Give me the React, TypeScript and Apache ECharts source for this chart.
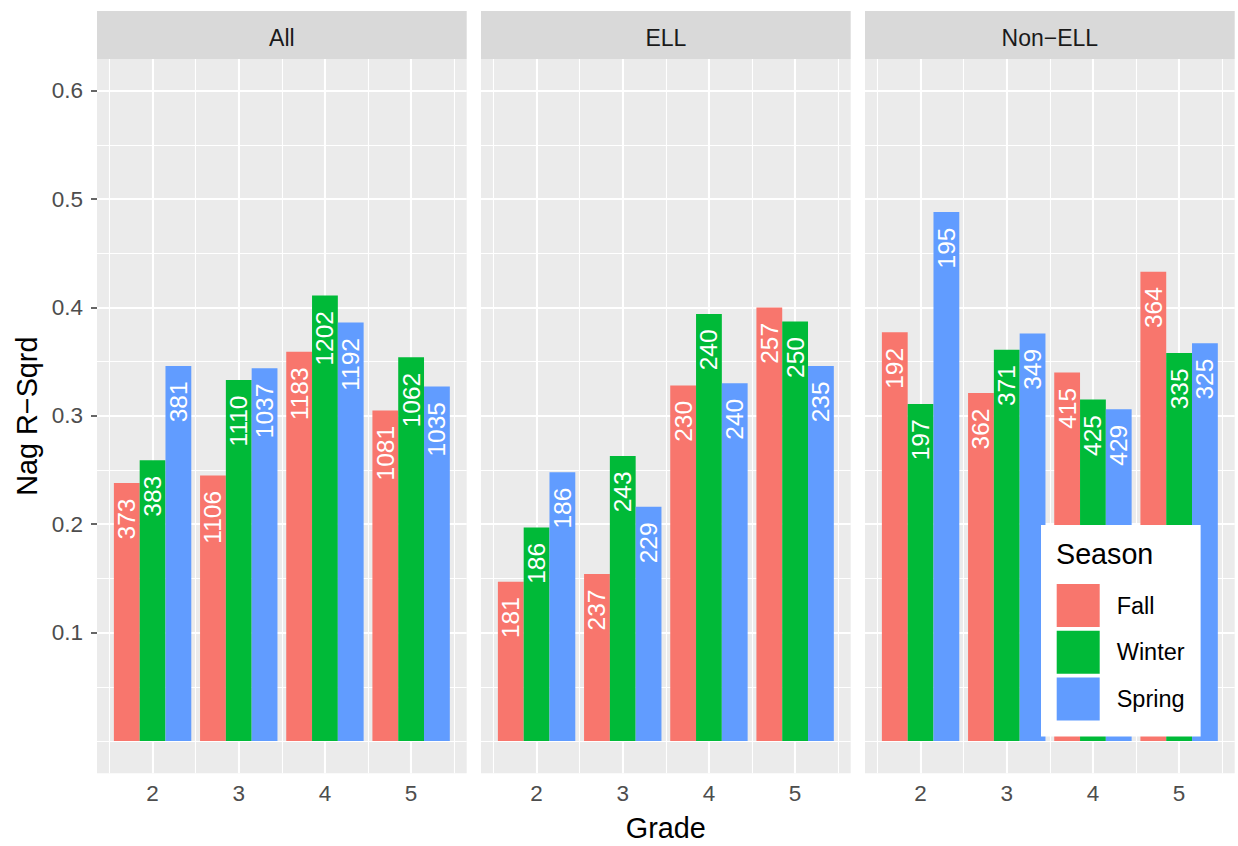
import React, { useEffect, useRef } from "react";
import * as echarts from "echarts";

// ---------- data ----------
const panels = ["All", "ELL", "Non\u2212ELL"];
const grades = [2, 3, 4, 5];
const seasons = ["Fall", "Winter", "Spring"];
const seasonColors = ["#F8766D", "#00BA38", "#619CFF"];

// Nag R-Sqrd by panel / season (index = grade 2..5)
const allFall = [0.238, 0.245, 0.359, 0.305];
const allWinter = [0.259, 0.333, 0.411, 0.354];
const allSpring = [0.346, 0.344, 0.386, 0.327];
const ellFall = [0.147, 0.154, 0.328, 0.400];
const ellWinter = [0.197, 0.263, 0.394, 0.387];
const ellSpring = [0.248, 0.216, 0.330, 0.346];
const nonFall = [0.377, 0.321, 0.340, 0.433];
const nonWinter = [0.311, 0.361, 0.315, 0.358];
const nonSpring = [0.488, 0.376, 0.306, 0.367];

// sample sizes shown on the bars
const allFallN = [373, 1106, 1183, 1081];
const allWinterN = [383, 1110, 1202, 1062];
const allSpringN = [381, 1037, 1192, 1035];
const ellFallN = [181, 237, 230, 257];
const ellWinterN = [186, 243, 240, 250];
const ellSpringN = [186, 229, 240, 235];
const nonFallN = [192, 362, 415, 364];
const nonWinterN = [197, 371, 425, 335];
const nonSpringN = [195, 349, 429, 325];

// axis breaks
const yBreaks = [0.1, 0.2, 0.3, 0.4, 0.5, 0.6];
const yMinorBreaks = [0, 0.05, 0.15, 0.25, 0.35, 0.45, 0.55];
const xMinorBreaks = [1.5, 2.5, 3.5, 4.5, 5.5];

const panelValues = [
  [allFall, allWinter, allSpring],
  [ellFall, ellWinter, ellSpring],
  [nonFall, nonWinter, nonSpring],
];
const panelCounts = [
  [allFallN, allWinterN, allSpringN],
  [ellFallN, ellWinterN, ellSpringN],
  [nonFallN, nonWinterN, nonSpringN],
];

// ---------- layout ----------
const FONT = '"Liberation Sans", Arial, Helvetica, sans-serif';
const PANEL_LEFTS = [97, 481, 865];
const PANEL_W = 369.7;
const PANEL_TOP = 59;
const PANEL_BOTTOM = 773.3;
const STRIP_TOP = 11;
const X_MIN = 1.355;
const X_MAX = 5.645;
const Y_MIN = -0.0298;
const Y_MAX = 0.6292;

function buildOption() {
  const grid = PANEL_LEFTS.map((l) => ({
    left: l,
    top: PANEL_TOP,
    width: PANEL_W,
    height: PANEL_BOTTOM - PANEL_TOP,
    show: true,
    backgroundColor: "#EBEBEB",
    borderWidth: 0,
  }));

  const xAxis = PANEL_LEFTS.map((_, i) => ({
    type: "value",
    gridIndex: i,
    min: X_MIN,
    max: X_MAX,
    axisLine: { show: false },
    axisTick: {
      show: true,
      customValues: grades,
      length: 6,
      lineStyle: { color: "#333333", width: 1.5 },
    },
    axisLabel: {
      show: true,
      customValues: grades,
      color: "#4D4D4D",
      fontSize: 22.5,
      fontFamily: FONT,
      margin: 9,
    },
    splitLine: { show: false },
  }));

  const yAxis = PANEL_LEFTS.map((_, i) => ({
    type: "value",
    gridIndex: i,
    min: Y_MIN,
    max: Y_MAX,
    axisLine: { show: false },
    axisTick: {
      show: i === 0,
      customValues: yBreaks,
      length: 6,
      lineStyle: { color: "#333333", width: 1.5 },
    },
    axisLabel: {
      show: i === 0,
      customValues: yBreaks,
      color: "#4D4D4D",
      fontSize: 22.5,
      fontFamily: FONT,
      margin: 14,
      formatter: (v: number) => v.toFixed(1),
    },
    splitLine: { show: false },
  }));

  const series: any[] = [];
  panels.forEach((_, p) => {
    const gridLines: any[] = [];
    grades.forEach((g) =>
      gridLines.push({ xAxis: g, lineStyle: { width: 2.1, color: "#FFFFFF", type: "solid" } })
    );
    xMinorBreaks.forEach((g) =>
      gridLines.push({ xAxis: g, lineStyle: { width: 1.1, color: "#FFFFFF", type: "solid" } })
    );
    yBreaks.forEach((v) =>
      gridLines.push({ yAxis: v, lineStyle: { width: 2.1, color: "#FFFFFF", type: "solid" } })
    );
    yMinorBreaks.forEach((v) =>
      gridLines.push({ yAxis: v, lineStyle: { width: 1.1, color: "#FFFFFF", type: "solid" } })
    );
    series.push({
      type: "line",
      name: "grid" + p,
      xAxisIndex: p,
      yAxisIndex: p,
      data: [],
      silent: true,
      markLine: {
        z: 1,
        silent: true,
        symbol: ["none", "none"],
        label: { show: false },
        emphasis: { disabled: true },
        data: gridLines,
      },
    });
    seasons.forEach((s, k) => {
      const vals = panelValues[p][k];
      const ns = panelCounts[p][k];
      series.push({
        type: "bar",
        name: s,
        xAxisIndex: p,
        yAxisIndex: p,
        z: 2,
        barWidth: 25.8,
        barGap: "0%",
        silent: true,
        data: grades.map((g, j) => [g, vals[j]]),
        itemStyle: { color: seasonColors[k] },
        label: {
          show: true,
          position: "insideTop",
          distance: 15.5,
          rotate: 90,
          align: "right",
          verticalAlign: "middle",
          color: "#FFFFFF",
          fontSize: 24.5,
          fontFamily: FONT,
          formatter: (prm: any) => String(ns[prm.dataIndex]),
        },
      });
    });
  });

  const graphic: any[] = [];
  panels.forEach((name, p) => {
    graphic.push({
      type: "rect",
      z: 0,
      shape: { x: PANEL_LEFTS[p], y: STRIP_TOP, width: PANEL_W, height: PANEL_TOP - STRIP_TOP },
      style: { fill: "#D9D9D9" },
      silent: true,
    });
    graphic.push({
      type: "text",
      z: 1,
      x: PANEL_LEFTS[p] + PANEL_W / 2,
      y: 37.5,
      style: {
        text: name,
        fill: "#1A1A1A",
        fontSize: 23,
        fontFamily: FONT,
        align: "center",
        verticalAlign: "middle",
      },
      silent: true,
    });
  });
  graphic.push({
    type: "text",
    x: (PANEL_LEFTS[0] + PANEL_LEFTS[2] + PANEL_W) / 2,
    y: 828,
    style: {
      text: "Grade",
      fill: "#000000",
      fontSize: 28.8,
      fontFamily: FONT,
      align: "center",
      verticalAlign: "middle",
    },
    silent: true,
  });
  graphic.push({
    type: "text",
    x: 27,
    y: (PANEL_TOP + PANEL_BOTTOM) / 2,
    rotation: Math.PI / 2,
    style: {
      text: "Nag R\u2212Sqrd",
      fill: "#000000",
      fontSize: 28.8,
      fontFamily: FONT,
      align: "center",
      verticalAlign: "middle",
    },
    silent: true,
  });
  graphic.push({
    type: "text",
    z: 20,
    x: 1056,
    y: 554,
    style: {
      text: "Season",
      fill: "#000000",
      fontSize: 28.7,
      fontFamily: FONT,
      align: "left",
      verticalAlign: "middle",
    },
    silent: true,
  });

  return {
    animation: false,
    textStyle: { fontFamily: FONT },
    grid,
    xAxis,
    yAxis,
    series,
    legend: {
      show: true,
      data: seasons,
      orient: "vertical",
      left: 1041,
      top: 525,
      icon: "rect",
      itemWidth: 43,
      itemHeight: 43,
      itemGap: 3.7,
      selectedMode: false,
      backgroundColor: "#FFFFFF",
      padding: [59, 16, 16, 15.7],
      z: 10,
      textStyle: {
        color: "#000000",
        fontSize: 23.5,
        fontFamily: FONT,
        padding: [0, 0, 0, 12],
      },
    },
    graphic,
  };
}

export default function App() {
  const ref = useRef<HTMLDivElement>(null);
  useEffect(() => {
    if (!ref.current) return;
    const chart = echarts.init(ref.current, undefined, { renderer: "svg" });
    chart.setOption(buildOption() as any);
    return () => chart.dispose();
  }, []);
  return (
    <div
      ref={ref}
      style={{ position: "absolute", left: 0, top: 0, width: 1238, height: 846, background: "#FFFFFF" }}
    />
  );
}
